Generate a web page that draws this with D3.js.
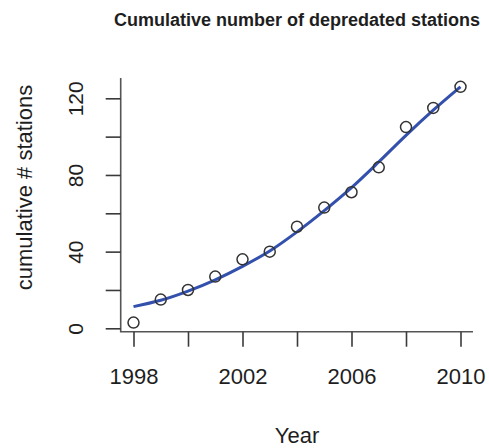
<!DOCTYPE html>
<html>
<head>
<meta charset="utf-8">
<script src="https://cdn.jsdelivr.net/npm/d3@7"></script>
<style>
  html, body { margin: 0; padding: 0; background: #fff; }
  svg { display: block; font-family: "Liberation Sans", Arial, Helvetica, sans-serif; }
</style>
</head>
<body>
<svg id="chart" width="489" height="448"></svg>
<script>
const years = [1998, 1999, 2000, 2001, 2002, 2003, 2004, 2005, 2006, 2007, 2008, 2009, 2010];
const stations = [3, 15, 20, 27, 36, 40, 53, 63, 71, 84, 105, 115, 126];
const fitted = [11.3, 14.6, 19.4, 25.3, 32.3, 40.3, 50.3, 61.4, 73.4, 86.8, 100.7, 113.8, 126];
const xTicks = [1998, 2000, 2002, 2004, 2006, 2008, 2010];
const xTickLabels = [1998, 2002, 2006, 2010];
const yTicks = [0, 20, 40, 60, 80, 100, 120];
const yTickLabels = [0, 40, 80, 120];

const svg = d3.select("#chart");
const plot = { left: 120.7, right: 473, top: 78, bottom: 331.7 };

const x = d3.scaleLinear().domain([1998, 2010]).range([133.5, 460.5]);
const y = d3.scaleLinear().domain([0, 120]).range([328.3, 98.3]);

const axisColor = "#3a3a3a";
const textColor = "#1e1e1e";

// L-shaped box
svg.append("path")
  .attr("d", `M${plot.left},${plot.top}V${plot.bottom}H${plot.right}`)
  .attr("fill", "none")
  .attr("stroke", "#555")
  .attr("stroke-width", 1.6);

// Y axis
const gy = svg.append("g")
  .attr("transform", `translate(${plot.left},0)`)
  .call(d3.axisLeft(y).tickValues(yTicks).tickSize(15)
    .tickFormat(d => yTickLabels.includes(d) ? String(d) : ""));
gy.select(".domain").remove();
gy.selectAll(".tick line").attr("stroke", axisColor).attr("stroke-width", 1.6);
gy.selectAll(".tick text")
  .attr("x", null).attr("dy", null)
  .attr("transform", "translate(-37.5,0) rotate(-90)")
  .attr("y", 0)
  .attr("text-anchor", "middle")
  .attr("font-size", 21)
  .attr("font-family", "Liberation Sans, Arial, sans-serif")
  .attr("fill", textColor);

// X axis
const gx = svg.append("g")
  .attr("transform", `translate(0,${plot.bottom})`)
  .call(d3.axisBottom(x).tickValues(xTicks).tickSize(15)
    .tickFormat(d => xTickLabels.includes(d) ? String(d) : ""));
gx.select(".domain").remove();
gx.selectAll(".tick line").attr("stroke", axisColor).attr("stroke-width", 1.6);
gx.selectAll(".tick text")
  .attr("y", 52.5).attr("dy", null)
  .attr("font-size", 22)
  .attr("font-family", "Liberation Sans, Arial, sans-serif")
  .attr("fill", textColor);

// Fitted curve
const line = d3.line()
  .x((d, i) => x(years[i]))
  .y(d => y(d))
  .curve(d3.curveMonotoneX);
svg.append("path")
  .datum(fitted)
  .attr("d", line)
  .attr("fill", "none")
  .attr("stroke", "#3350ad")
  .attr("stroke-width", 3);

// Points
svg.append("g").selectAll("circle")
  .data(stations)
  .join("circle")
  .attr("cx", (d, i) => x(years[i]))
  .attr("cy", d => y(d))
  .attr("r", 5.5)
  .attr("fill", "none")
  .attr("stroke", "#333")
  .attr("stroke-width", 1.5);

// Title
svg.append("text")
  .attr("x", 297).attr("y", 26)
  .attr("text-anchor", "middle")
  .attr("font-size", 18)
  .attr("font-weight", "bold")
  .attr("fill", textColor)
  .text("Cumulative number of depredated stations");

// Axis titles
svg.append("text")
  .attr("x", 297).attr("y", 443)
  .attr("text-anchor", "middle")
  .attr("font-size", 22)
  .attr("fill", textColor)
  .text("Year");

svg.append("text")
  .attr("transform", "translate(31.5,187.5) rotate(-90)")
  .attr("text-anchor", "middle")
  .attr("font-size", 22)
  .attr("fill", textColor)
  .text("cumulative # stations");
</script>
</body>
</html>
